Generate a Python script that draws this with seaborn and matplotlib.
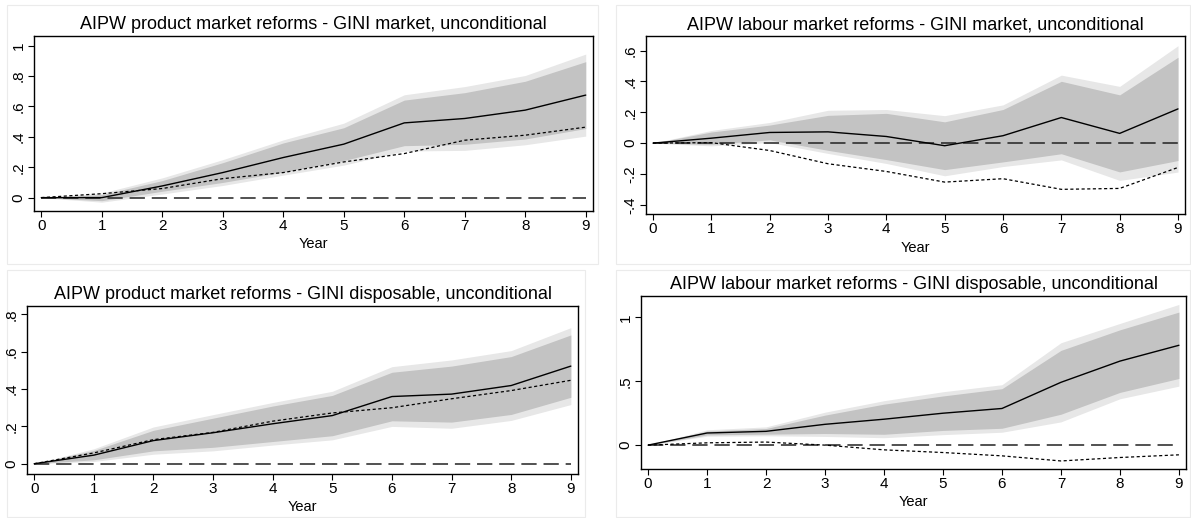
import numpy as np
import matplotlib
matplotlib.use("Agg")
import matplotlib.pyplot as plt
import seaborn as sns
from matplotlib.patches import Rectangle

sns.set_theme(style="white")
plt.rcParams['font.family'] = ['Liberation Sans Narrow', 'Liberation Sans', 'DejaVu Sans']
plt.rcParams['text.color'] = 'black'
plt.rcParams['axes.labelcolor'] = 'black'
plt.rcParams['xtick.color'] = 'black'
plt.rcParams['ytick.color'] = 'black'

# ---- data ----
years = [0, 1, 2, 3, 4, 5, 6, 7, 8, 9]

# product market reforms - GINI market
pm_mkt_est = [0, 0, 0.077, 0.165, 0.264, 0.352, 0.492, 0.521, 0.576, 0.675]
pm_mkt_dot = [0, 0.026, 0.06, 0.125, 0.165, 0.235, 0.29, 0.378, 0.411, 0.464]
pm_mkt_in_hi = [0, 0.02, 0.112, 0.23, 0.36, 0.46, 0.642, 0.691, 0.766, 0.895]
pm_mkt_in_lo = [0, -0.02, 0.042, 0.10, 0.168, 0.244, 0.342, 0.351, 0.386, 0.455]
pm_mkt_out_hi = [0, 0.03, 0.13, 0.25, 0.38, 0.49, 0.677, 0.731, 0.804, 0.945]
pm_mkt_out_lo = [0, -0.03, 0.024, 0.08, 0.148, 0.214, 0.307, 0.311, 0.348, 0.405]

# labour market reforms - GINI market
lm_mkt_est = [0, 0.032, 0.069, 0.073, 0.043, -0.017, 0.048, 0.166, 0.063, 0.222]
lm_mkt_dot = [0, 0.003, -0.048, -0.134, -0.184, -0.253, -0.231, -0.30, -0.294, -0.158]
lm_mkt_in_hi = [0, 0.072, 0.117, 0.18, 0.193, 0.138, 0.218, 0.401, 0.313, 0.557]
lm_mkt_in_lo = [0, -0.008, 0.021, -0.047, -0.107, -0.172, -0.122, -0.069, -0.187, -0.113]
lm_mkt_out_hi = [0, 0.082, 0.134, 0.213, 0.218, 0.178, 0.248, 0.441, 0.368, 0.632]
lm_mkt_out_lo = [0, -0.018, 0.004, -0.067, -0.132, -0.212, -0.152, -0.109, -0.242, -0.188]

# product market reforms - GINI disposable
pm_disp_est = [0, 0.046, 0.124, 0.166, 0.214, 0.258, 0.36, 0.373, 0.419, 0.523]
pm_disp_dot = [0, 0.058, 0.129, 0.168, 0.228, 0.272, 0.30, 0.348, 0.392, 0.447]
pm_disp_in_hi = [0, 0.071, 0.179, 0.244, 0.309, 0.366, 0.49, 0.523, 0.574, 0.69]
pm_disp_in_lo = [0, 0.021, 0.069, 0.088, 0.119, 0.15, 0.23, 0.223, 0.264, 0.356]
pm_disp_out_hi = [0, 0.08, 0.197, 0.263, 0.328, 0.388, 0.52, 0.556, 0.606, 0.729]
pm_disp_out_lo = [0, 0.012, 0.051, 0.069, 0.10, 0.128, 0.20, 0.19, 0.232, 0.317]

# labour market reforms - GINI disposable
lm_disp_est = [0, 0.095, 0.108, 0.163, 0.203, 0.25, 0.287, 0.492, 0.658, 0.782]
lm_disp_dot = [0, 0.018, 0.024, 0.0, -0.037, -0.058, -0.084, -0.124, -0.097, -0.076]
lm_disp_in_hi = [0, 0.11, 0.13, 0.235, 0.321, 0.385, 0.442, 0.742, 0.903, 1.042]
lm_disp_in_lo = [0, 0.08, 0.086, 0.091, 0.085, 0.115, 0.132, 0.242, 0.413, 0.522]
lm_disp_out_hi = [0, 0.12, 0.143, 0.258, 0.348, 0.418, 0.473, 0.802, 0.953, 1.102]
lm_disp_out_lo = [0, 0.07, 0.073, 0.068, 0.058, 0.082, 0.101, 0.182, 0.363, 0.462]

titles = [
    "AIPW product market reforms - GINI market, unconditional",
    "AIPW labour market reforms - GINI market, unconditional",
    "AIPW product market reforms - GINI disposable, unconditional",
    "AIPW labour market reforms - GINI disposable, unconditional",
]
yticks = [[0, 0.2, 0.4, 0.6, 0.8, 1], [-0.4, -0.2, 0, 0.2, 0.4, 0.6],
          [0, 0.2, 0.4, 0.6, 0.8], [0, 0.5, 1]]
yticklabels = [["0", ".2", ".4", ".6", ".8", "1"], ["-.4", "-.2", "0", ".2", ".4", ".6"],
               ["0", ".2", ".4", ".6", ".8"], ["0", ".5", "1"]]

panels = [
    (pm_mkt_est, pm_mkt_dot, pm_mkt_in_lo, pm_mkt_in_hi, pm_mkt_out_lo, pm_mkt_out_hi),
    (lm_mkt_est, lm_mkt_dot, lm_mkt_in_lo, lm_mkt_in_hi, lm_mkt_out_lo, lm_mkt_out_hi),
    (pm_disp_est, pm_disp_dot, pm_disp_in_lo, pm_disp_in_hi, pm_disp_out_lo, pm_disp_out_hi),
    (lm_disp_est, lm_disp_dot, lm_disp_in_lo, lm_disp_in_hi, lm_disp_out_lo, lm_disp_out_hi),
]

# ---- layout (pixel boxes of the original) ----
W, H = 1191, 518
ax_px = [(34, 36, 593, 211), (646, 36, 1185, 214), (27, 306, 578, 474), (641, 296, 1186, 469)]
bg_px = [(7, 5, 598, 264), (616, 5, 1190, 264), (7, 270, 585, 517), (616, 270, 1190, 517)]
ylims = [(-0.088, 1.064), (-0.46, 0.695), (-0.055, 0.845), (-0.187, 1.168)]

fig = plt.figure(figsize=(W / 100, H / 100), dpi=100)
fig.patch.set_facecolor('white')

for x0, y0, x1, y1 in bg_px:
    fig.patches.append(Rectangle((x0 / W, 1 - y1 / H), (x1 - x0) / W, (y1 - y0) / H,
                                 transform=fig.transFigure, facecolor='white',
                                 edgecolor='#ebebeb', lw=0.8, zorder=-5))

for i, (est, dot, in_lo, in_hi, out_lo, out_hi) in enumerate(panels):
    x0, y0, x1, y1 = ax_px[i]
    ax = fig.add_axes([x0 / W, 1 - y1 / H, (x1 - x0) / W, (y1 - y0) / H])
    ax.set_facecolor('white')

    ax.fill_between(years, out_lo, out_hi, color='#e7e7e7', lw=0)
    ax.fill_between(years, in_lo, in_hi, color='#c3c3c3', lw=0)
    ax.hlines(0, years[0], years[-1], colors='#222222', lw=1.1, linestyles=(0, (10, 4.5)))
    sns.lineplot(x=years, y=est, ax=ax, color='black', lw=1.0)
    sns.lineplot(x=years, y=dot, ax=ax, color='black', lw=0.9, linestyle=(0, (2.5, 2)))

    ax.set_xlim(-0.12, 9.12)
    ax.set_ylim(*ylims[i])
    ax.set_xticks(years)
    ax.set_xticklabels([str(y) for y in years], fontsize=11)
    ax.set_yticks(yticks[i])
    ax.set_yticklabels(yticklabels[i], fontsize=11, rotation=90, va='center')
    ax.tick_params(direction='out', length=4, width=0.8, color='black', pad=2,
                   bottom=True, left=True)
    for s in ax.spines.values():
        s.set_color('black')
        s.set_linewidth(1.0)
    ax.set_xlabel('Year', fontsize=10.5, labelpad=3)
    ax.set_ylabel('')
    ax.set_title(titles[i], fontsize=13, pad=5)

fig.savefig('out.png', dpi=100, facecolor='white')
